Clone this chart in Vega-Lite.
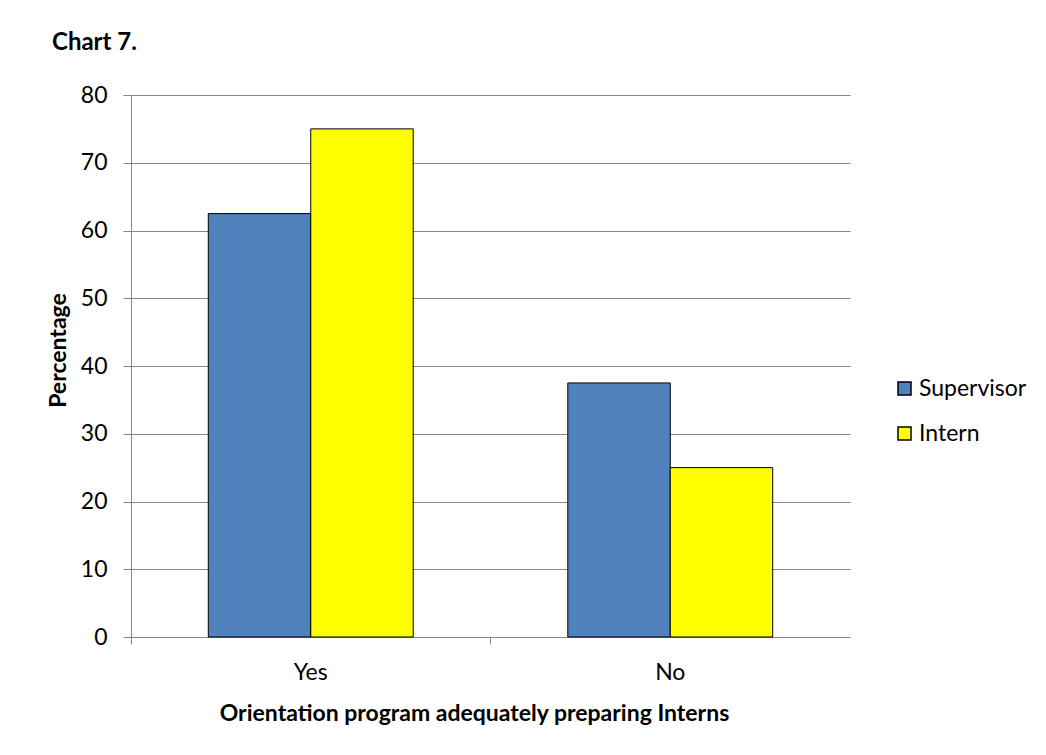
{
  "$schema": "https://vega.github.io/schema/vega-lite/v6.json",
  "width": 719,
  "height": 542,
  "autosize": "none",
  "padding": {"left": 131, "top": 95, "right": 196, "bottom": 118},
  "background": "white",
  "config": {"font": "Lato", "view": {"stroke": null}},
  "title": {"text": "Chart 7.", "anchor": "start", "frame": "group", "dx": -79, "offset": 29, "fontSize": 24, "font": "Lato", "fontWeight": "bold", "color": "black"},
  "data": {"values": [
    {"answer": "Yes", "group": "Supervisor", "percentage": 62.5},
    {"answer": "Yes", "group": "Intern", "percentage": 75},
    {"answer": "No", "group": "Supervisor", "percentage": 37.5},
    {"answer": "No", "group": "Intern", "percentage": 25}
  ]},
  "mark": {"type": "bar", "stroke": "black", "strokeWidth": 1, "opacity": 1},
  "encoding": {
    "x": {
      "field": "answer", "type": "nominal", "sort": ["Yes", "No"],
      "scale": {"paddingInner": 0.43, "paddingOuter": 0.215},
      "axis": {
        "title": "Orientation program adequately preparing Interns",
        "labelAngle": 0, "bandPosition": -0.376,
        "domainColor": "#868686", "tickColor": "#868686", "tickSize": 7,
        "labelPadding": 17, "labelFontSize": 23, "labelColor": "black",
        "titleFontSize": 23, "titleFontWeight": "bold", "titleColor": "black", "titlePadding": 18, "titleX": 343
      }
    },
    "xOffset": {"field": "group", "type": "nominal", "sort": ["Supervisor", "Intern"], "scale": {"paddingInner": 0, "paddingOuter": 0}},
    "y": {
      "field": "percentage", "type": "quantitative",
      "scale": {"domain": [0, 80]},
      "axis": {
        "title": "Percentage", "values": [0, 10, 20, 30, 40, 50, 60, 70, 80],
        "grid": true, "gridColor": "#868686", "domainColor": "#868686", "tickColor": "#868686", "tickSize": 8,
        "labelPadding": 16, "labelFontSize": 23, "labelColor": "black",
        "titleFontSize": 23, "titleFontWeight": "bold", "titleColor": "black", "titlePadding": 10, "titleY": 255
      }
    },
    "color": {
      "field": "group", "type": "nominal",
      "scale": {"domain": ["Supervisor", "Intern"], "range": ["#4F81BD", "#FFFF00"]},
      "legend": {
        "title": null, "orient": "none", "legendX": 762, "legendY": 282,
        "symbolType": "square", "symbolSize": 169, "symbolStrokeColor": "black", "symbolStrokeWidth": 1.5, "symbolOpacity": 1,
        "labelFontSize": 23, "labelColor": "black", "labelOffset": 3, "rowPadding": 21
      }
    }
  }
}
